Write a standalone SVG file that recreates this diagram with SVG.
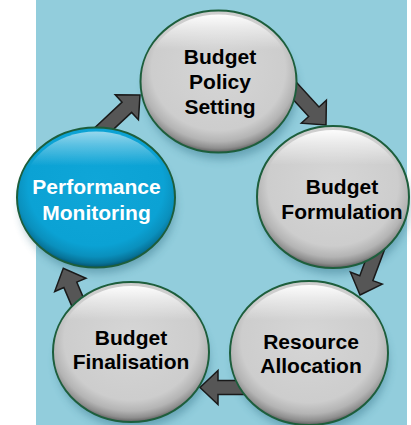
<svg xmlns="http://www.w3.org/2000/svg" width="411" height="425" viewBox="0 0 411 425">
<style>
.ring{stroke:#1d5e3c;stroke-width:2}
.hl{fill:url(#gHi)}
.sh{fill:#2b6a80;opacity:0.45;filter:url(#blur)}
.lbl{font-family:"Liberation Sans",Arial,sans-serif;font-weight:bold;font-size:21px;text-anchor:middle;fill:#000}
.lblw{fill:#fff}
.arr{fill:#565656;stroke:#1a1a1a;stroke-width:1.5;stroke-linejoin:miter}
</style>
<defs>
<radialGradient id="gGray" cx="50%" cy="42%" r="58%" fx="50%" fy="40%">
<stop offset="0" stop-color="#d6d6d6"/>
<stop offset="0.74" stop-color="#cdcdcd"/>
<stop offset="0.87" stop-color="#b4b4b4"/>
<stop offset="0.95" stop-color="#8e8e8e"/>
<stop offset="1" stop-color="#5e5e5e"/>
</radialGradient>
<radialGradient id="gBlue" cx="50%" cy="42%" r="58%" fx="50%" fy="40%">
<stop offset="0" stop-color="#0fa6d8"/>
<stop offset="0.74" stop-color="#0ba2d4"/>
<stop offset="0.87" stop-color="#0a90bd"/>
<stop offset="0.95" stop-color="#077398"/>
<stop offset="1" stop-color="#04516c"/>
</radialGradient>
<linearGradient id="gHi" x1="0" y1="0" x2="0" y2="1">
<stop offset="0" stop-color="#fff" stop-opacity="0.95"/>
<stop offset="0.1" stop-color="#fff" stop-opacity="0.55"/>
<stop offset="0.26" stop-color="#fff" stop-opacity="0"/>
</linearGradient>
<filter id="blur" x="-30%" y="-30%" width="160%" height="160%">
<feGaussianBlur stdDeviation="5"/>
</filter>
<path id="arrow" d="M0,0 L-18,-17 L-18,-7 L-62,-7 L-62,7 L-18,7 L-18,17 Z"/>
</defs>
<rect x="0" y="0" width="411" height="425" fill="#ffffff"/>
<rect x="36" y="0" width="371" height="425" fill="#92cddc"/>
<g id="shadows">
<ellipse class="sh" cx="221" cy="91" rx="76" ry="68"/>
<ellipse class="sh" cx="335" cy="206" rx="74" ry="68"/>
<ellipse class="sh" cx="311" cy="362" rx="77" ry="69"/>
<ellipse class="sh" cx="133" cy="361" rx="76" ry="67"/>
<ellipse class="sh" cx="98" cy="206" rx="77" ry="67"/>
</g>
<g id="connectors">
<use href="#arrow" class="arr" transform="translate(140,95) rotate(-43)"/>
<use href="#arrow" class="arr" transform="translate(326,125) rotate(47.5)"/>
<use href="#arrow" class="arr" transform="translate(360,295) rotate(110.6)"/>
<use href="#arrow" class="arr" transform="translate(200,387.5) rotate(180)"/>
<use href="#arrow" class="arr" transform="translate(63.3,268.3) rotate(-113)"/>
</g>
<g id="node-policy">
<ellipse class="ring" cx="218.5" cy="81.5" rx="78" ry="71" fill="url(#gGray)"/>
<ellipse class="hl" cx="218.5" cy="81.5" rx="74" ry="67"/>
<text class="lbl" x="220" y="64">Budget</text>
<text class="lbl" x="220" y="89">Policy</text>
<text class="lbl" x="220" y="113.5">Setting</text>
</g>
<g id="node-formulation">
<ellipse class="ring" cx="333" cy="197" rx="76" ry="71" fill="url(#gGray)"/>
<ellipse class="hl" cx="333" cy="197" rx="72" ry="67"/>
<text class="lbl" x="342" y="194">Budget</text>
<text class="lbl" x="342" y="218.5">Formulation</text>
</g>
<g id="node-resource">
<ellipse class="ring" cx="309" cy="353" rx="79" ry="72" fill="url(#gGray)"/>
<ellipse class="hl" cx="309" cy="353" rx="75" ry="68"/>
<text class="lbl" x="311" y="349">Resource</text>
<text class="lbl" x="311" y="373">Allocation</text>
</g>
<g id="node-finalisation">
<ellipse class="ring" cx="131" cy="352" rx="78" ry="70" fill="url(#gGray)"/>
<ellipse class="hl" cx="131" cy="352" rx="74" ry="66"/>
<text class="lbl" x="131" y="344.5">Budget</text>
<text class="lbl" x="131" y="369">Finalisation</text>
</g>
<g id="node-performance">
<ellipse class="ring" cx="96" cy="197.5" rx="79" ry="70" fill="url(#gBlue)"/>
<ellipse class="hl" cx="96" cy="197.5" rx="75" ry="66" opacity="0.6"/>
<text class="lbl lblw" x="96.5" y="194">Performance</text>
<text class="lbl lblw" x="96.5" y="219.5">Monitoring</text>
</g>
</svg>
